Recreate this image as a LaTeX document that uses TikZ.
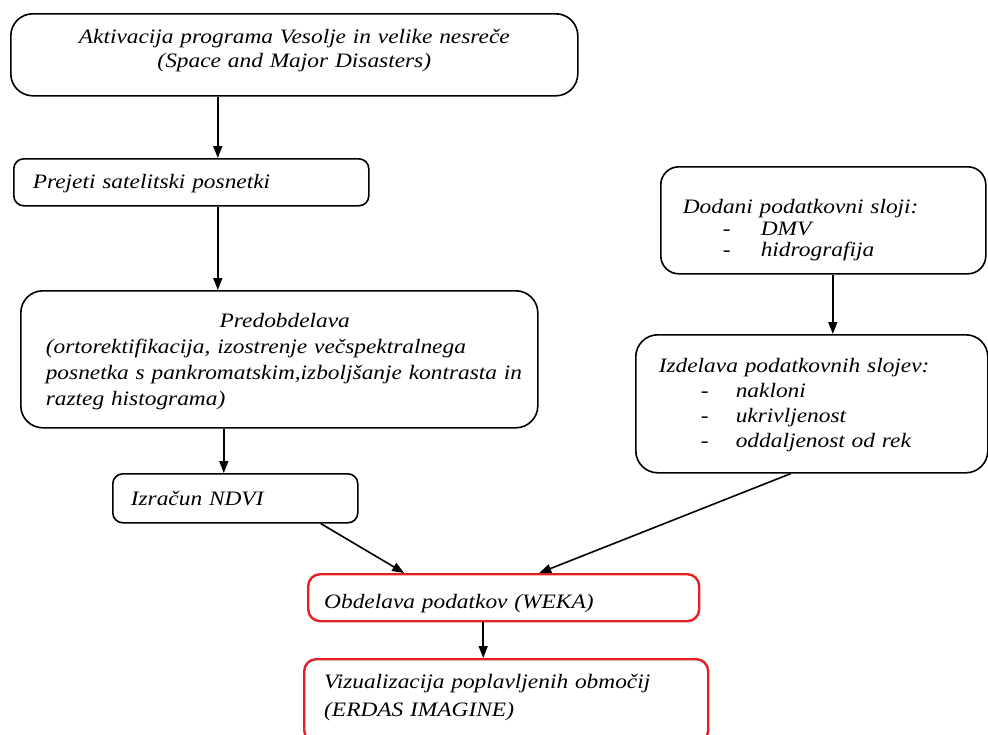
\documentclass[tikz,border=0pt]{standalone}
\usepackage{fontspec}
\setmainfont{Liberation Serif}[FakeStretch=1.14]
\usetikzlibrary{arrows.meta}
\definecolor{Frame}{RGB}{228,32,38}
% struts that fix the gap above the first and below the last line
\newcommand\topgap[1]{\rule{0pt}{#1pt}}
\newcommand\botgap[1]{\rule[-#1pt]{0pt}{#1pt}}

\begin{document}
\begin{tikzpicture}[x=1pt,y=-1pt,
 b/.style={draw,line width=1.6pt,anchor=north west,align=left,inner ysep=0pt,rounded corners=10pt,font=\fontsize{20.5}{24}\selectfont\itshape},
 r/.style={b,draw=Frame,line width=2.4pt,rounded corners=12pt},
 a/.style={-{Triangle[length=12pt,width=9pt]},line width=1.6pt}]
\useasboundingbox (0,0) rectangle (988,734);
\clip (0,0) rectangle (988,734);
\node[b,rounded corners=22pt,align=center,text width=567pt,inner xsep=0pt] (act) at (10,13) {\topgap{30}Aktivacija programa Vesolje in velike nesreče\\(Space and Major Disasters)\botgap{28}};
\node[b,text width=317pt,inner xsep=19pt] (prej) at (13,158) {\topgap{30}Prejeti satelitski posnetki\botgap{17}};
\node[b,rounded corners=22pt,text width=509pt,inner xsep=4pt,font=\fontsize{20.5}{26}\selectfont\itshape] (pred) at (20,290) {\topgap{37}\hspace*{\fill}\hspace*{11pt}Predobdelava\hspace*{\fill}\null\\\hspace*{21pt}(ortorektifikacija, izostrenje večspektralnega\\\hspace*{21pt}posnetka s pankromatskim,izboljšanje kontrasta in\\\hspace*{21pt}razteg histograma)\botgap{22}};
\node[b,text width=209pt,inner xsep=18pt] (izr) at (112,473) {\topgap{32}Izračun NDVI\botgap{17}};
\node[b,rounded corners=18pt,text width=281pt,inner xsep=22pt,font=\fontsize{20.5}{21.5}\selectfont\itshape] (dod) at (660,166) {\topgap{47}Dodani podatkovni sloji:\\\hspace*{40pt}\makebox[38pt][l]{-}DMV\\\hspace*{40pt}\makebox[38pt][l]{-}hidrografija\botgap{17}};
\node[b,rounded corners=22pt,text width=306pt,inner xsep=23pt,font=\fontsize{20.5}{25}\selectfont\itshape] (izd) at (635,334) {\topgap{38}Izdelava podatkovnih slojev:\\\hspace*{42pt}\makebox[35pt][l]{-}nakloni\\\hspace*{42pt}\makebox[35pt][l]{-}ukrivljenost\\\hspace*{42pt}\makebox[35pt][l]{-}oddaljenost od rek\botgap{25}};
\node[r,text width=359pt,inner xsep=16pt] (obd) at (307,573) {\topgap{34}Obdelava podatkov (WEKA)\botgap{13}};
\node[r,text width=364pt,inner xsep=20pt,font=\fontsize{20.5}{28}\selectfont\itshape] (viz) at (303,658) {\topgap{29}Vizualizacija poplavljenih območij\\(ERDAS IMAGINE)\botgap{26}};
\draw[a] ([xshift=-76.5pt]act.south)--([xshift=26.5pt]prej.north);
\draw[a] ([xshift=26.5pt]prej.south)--([xshift=-61.5pt]pred.north);
\draw[a] ([xshift=-55.5pt]pred.south)--([xshift=-11.5pt]izr.north);
\draw[a] ([xshift=9.5pt]dod.south)--([xshift=21pt]izd.north);
\draw[a] ([xshift=85.5pt]izr.south)--([xshift=-99.5pt]obd.north);
\draw[a] ([xshift=-21pt]izd.south)--([xshift=35.5pt]obd.north);
\draw[a] ([xshift=-20.5pt]obd.south)--([xshift=-23pt]viz.north);
\end{tikzpicture}
\end{document}
